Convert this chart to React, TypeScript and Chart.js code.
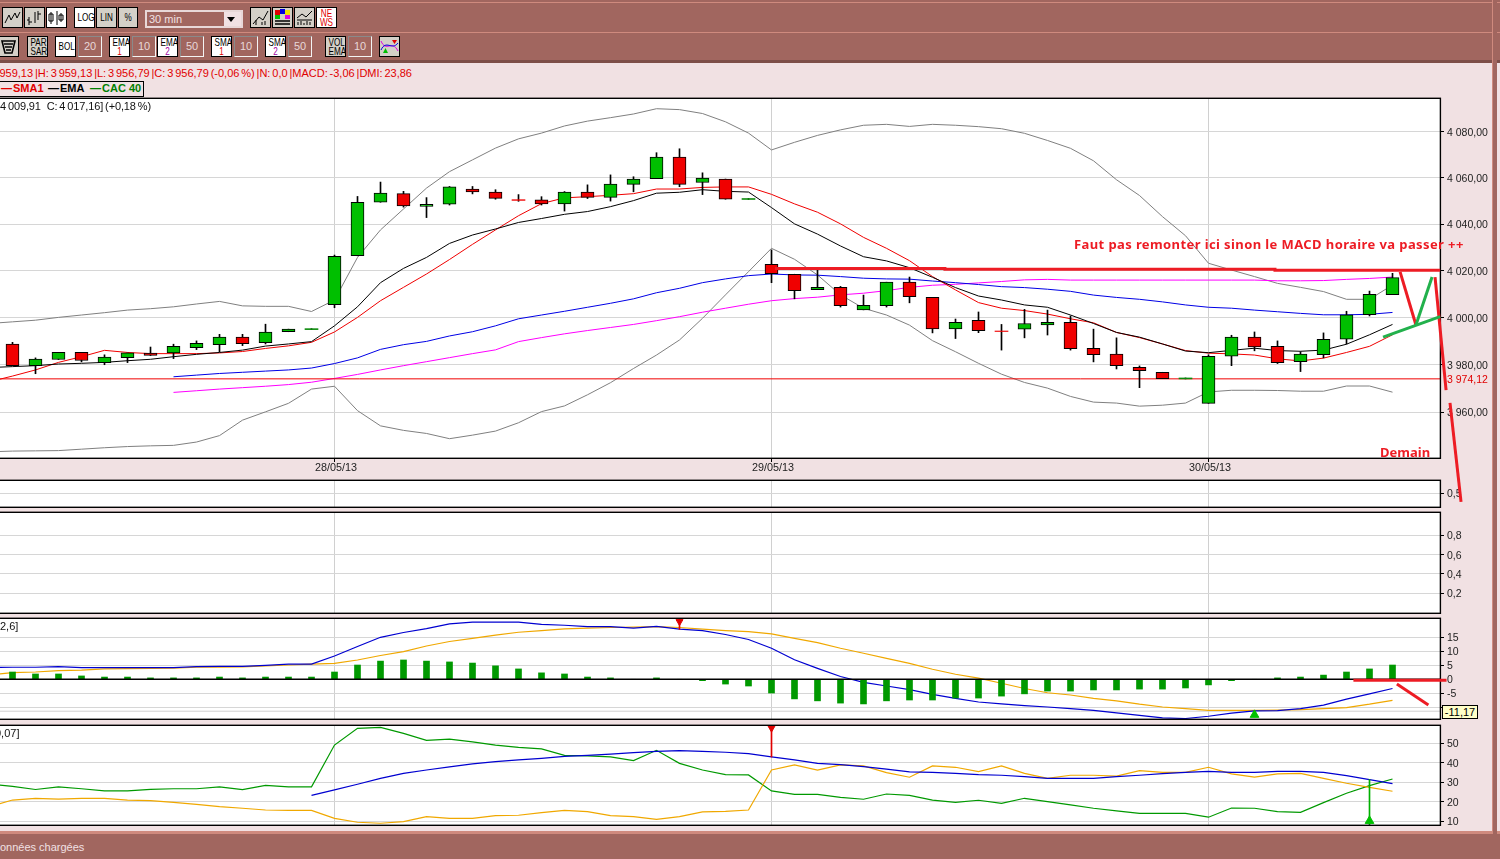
import React, { useEffect, useRef } from "react";
import { Chart, registerables } from "chart.js";

Chart.register(...registerables);

// ---------- data ----------
const dayIndexes = [14, 33, 52];
const dayLabels = ["28/05/13", "29/05/13", "30/05/13"];

const opens = [3988.8,3979.7,3982.3,3985.3,3981,3983.1,3985,3985.1,3987.3,3988.6,3991.8,3989.4,3994.1,3995,4005.6,4026.5,4049.5,4053.2,4047.7,4048.7,4055.2,4053.9,4050.6,4050.5,4048.8,4053.9,4051.6,4057.2,4059.7,4069,4058,4059.5,4050.7,4022.8,4018.6,4012,4013,4003.4,4005.2,4015.2,4008.7,3995.3,3998.9,3994.4,3995.2,3997,3998.1,3987.1,3984.6,3979,3976.9,3974.1,3963.8,3983.7,3991.8,3987.9,3981.4,3984.4,3990.9,4001.3,4009.91];
const closes = [3979.7,3982.5,3985.3,3981.9,3983.3,3985.1,3984,3987.9,3989.2,3991.8,3989,3993.9,3995.2,3995.4,4026.3,4049.5,4053.5,4047.9,4048.6,4056.1,4053.9,4051.2,4050.3,4048.8,4053.9,4051.6,4057.3,4059.5,4069,4057.2,4059.9,4050.8,4051.1,4018.8,4011.6,4013,4005.2,4005.3,4015.2,4009,3995.3,3998.1,3994.6,3994.2,3997.6,3998.1,3986.9,3984.4,3979.7,3977.6,3974.2,3974.5,3983.7,3991.8,3987.7,3981,3984.6,3990.9,4001.3,4010,4017.16];
const highs = [3989.6,3983,3985.3,3985.3,3984.3,3985.1,3987.6,3988.8,3990.2,3993,3993,3997.3,3995.2,3995.4,4026.8,4052,4058.2,4054.2,4051.5,4056.3,4056.3,4054.9,4052.8,4051.9,4054.1,4057,4061.3,4060.5,4070.9,4072.6,4062.2,4059.5,4051.1,4029,4018.6,4020.4,4013.4,4009.7,4015.2,4017.4,4008.7,3999.5,4002.5,3997.2,4003.6,4003.3,4000.8,3995.2,3991.5,3979.6,3976.9,3974.5,3984.3,3992.6,3994,3990.2,3985.6,3993.6,4002.8,4011.4,4019];
const lows = [3979.7,3976.3,3982.3,3981.3,3980.1,3981,3984,3982.7,3986.5,3985.6,3988.2,3988.9,3994.1,3995,4004.3,4026.5,4049.5,4047.4,4042.9,4048.3,4053.1,4050.8,4049.9,4048.3,4045.7,4051.1,4050,4054,4059.7,4056.2,4052.8,4050.8,4050.7,4015,4008.1,4012,4004.6,4003.4,4004.6,4006.4,3993.6,3991.2,3993.7,3986.3,3991.5,3992.7,3986.3,3981.3,3978.3,3970.4,3974.2,3974.1,3963.8,3979.7,3986,3980.6,3977.2,3983,3988.9,4000.8,4009.91];

// first value of these is candle -1 (just off the left edge)
const sma1 = [3972.9,3975.3,3977.9,3981.1,3983.5,3986.2,3985.3,3984.8,3984.8,3984.8,3985.1,3985.7,3987,3988.1,3989.6,3994,4000.2,4007.3,4013,4018.7,4024.9,4031.4,4037.6,4043.7,4048.9,4051.4,4051.9,4052.5,4053.2,4055.2,4055.2,4055.9,4056.1,4056.1,4052.9,4048.8,4045.2,4040.2,4034.4,4029.7,4024.4,4017.6,4011.9,4006.5,4004.1,4003.1,4001.6,3999.6,3997.9,3993.8,3991.6,3988.9,3986.1,3985,3984.7,3984.2,3982.6,3981.7,3982.9,3985.3,3987.9,3992.8];
const ema1 = [3978.9,3979.3,3979.7,3980.4,3980.7,3981.1,3981.8,3982.4,3983.5,3984.5,3985.3,3986.3,3988,3988.9,3989.9,3996.6,4004.7,4015,4021.1,4025.8,4031.8,4035.4,4038,4040.8,4042.5,4044.3,4045.5,4047.6,4050.2,4053.4,4053.8,4054.9,4054.2,4053.9,4047.2,4040.2,4035.8,4030.7,4026.1,4024.3,4021.4,4017.3,4012.9,4009.3,4007.6,4005.5,4004.5,4001.2,3997.6,3993.8,3991.8,3988.9,3985.9,3985.2,3986.2,3987.1,3986.1,3985.8,3986.3,3988.8,3992.8,3997.2];
const bollUp = [3997.6,3998.3,3999,4000.2,4001.2,4002.2,4003.3,4003.9,4004.7,4005.9,4007,4005.1,4004.9,4004.9,4002.7,4007.6,4025.8,4037.6,4046.6,4055.6,4062.7,4067.8,4072.9,4076.9,4079.4,4082.5,4084.6,4086.1,4087.7,4090,4089.6,4087.9,4084.3,4079.4,4072.1,4075.4,4078.4,4080.8,4082.8,4083.2,4082.3,4083.2,4082.8,4082.2,4081.3,4079.3,4076.2,4072.8,4067.4,4059.2,4052.4,4043.3,4035.1,4023.3,4020.4,4017.6,4014.7,4013,4011.2,4007.9,4007.9,4014];
const bollLow = [3943.4,3943.7,3943.8,3943.9,3944.5,3945.1,3945.6,3945.9,3946.1,3947.5,3950.2,3956.7,3960.2,3963.8,3969.8,3971,3960.7,3954.3,3952.4,3951.1,3948.9,3950.4,3952.1,3955.6,3960.3,3962.7,3967.4,3972.5,3978.5,3984.2,3990.6,3999.8,4009.8,4019.7,4029.7,4025,4018.3,4009.8,4004.1,4001.2,3996.9,3990.3,3985.6,3980.7,3976.1,3972.6,3970.2,3966.7,3964.3,3963.9,3962.6,3963,3963.9,3968.6,3969.3,3969.3,3969.2,3968.9,3968.9,3971.1,3971.1,3968.5];

// first value of these is candle 7
const sma2 = [3975,3975.7,3976.4,3976.9,3977.4,3977.9,3978.7,3980.6,3983,3986.6,3988.6,3990,3992.3,3994.1,3996.6,3999.6,4001.2,4002.8,4004.5,4006.2,4008.1,4010.7,4012.6,4015,4016.6,4018,4018.7,4018.3,4018.2,4017.6,4016.9,4016.6,4016.5,4015.7,4015,4014.2,4013.3,4012.9,4012.2,4011.3,4009.7,4008.7,4007.9,4006.8,4005.5,4004.5,4004.1,4003.3,4002.6,4001.9,4001.3,4001.3,4001.5,4002.3];
const ema2 = [3968.4,3969.1,3969.8,3970.4,3971,3971.7,3972.7,3974.3,3976,3977.9,3979.7,3981.4,3983.1,3984.8,3986.4,3989.9,3991.6,3993.2,3994.6,3995.9,3997.2,3998.8,4000.5,4002.4,4004.1,4005.8,4007.3,4008.2,4008.8,4009.8,4010.5,4011.6,4013,4013.9,4014.3,4014.9,4015.5,4016.2,4016.4,4016.1,4016.1,4016.1,4016.1,4016.1,4016.1,4016.1,4016.1,4016.1,4015.8,4015.8,4015.9,4016.4,4016.8,4017.4];

const lastLevel = 3974.12;

// first value: candle -1
const macdLine = [4.2,4.3,4.3,4.5,4.2,4.2,4.2,4.2,4.2,4.5,4.6,4.6,5,5.4,5.4,8.3,11.7,15,16.7,18.1,19.8,20.4,20.4,20.4,19.6,19.3,18.8,18.8,18.3,18.9,17.9,17.4,16,14.2,11.1,7,3.9,1,-1.1,-2.4,-3.7,-5.4,-6.8,-8.1,-8.8,-9.4,-9.9,-10.5,-11.1,-12,-12.9,-13.8,-14,-13.2,-12.1,-11.3,-11.2,-10.5,-9.2,-7.1,-5.2,-3.3];
const macdSignal = [1.5,2.4,2.6,3.1,3.3,3.7,3.8,3.9,4,4.3,4.3,4.4,4.8,5.1,5.4,5.7,6.9,8.5,9.9,11.9,13.5,14.6,15.8,16.8,17.4,18,18.3,18.5,18.6,18.8,18.5,17.9,17.4,17,16.2,14.6,13.1,11.1,9.3,7.5,5.7,3.6,1.8,0.4,-1.4,-3.3,-4.8,-5.6,-6.8,-7.7,-8.9,-9.9,-10.5,-11.1,-11.1,-11.1,-11,-10.8,-10.5,-10.1,-8.9,-7.5];
// first value: candle 0
const macdHist = [2.6,1.9,1.9,1.2,0.8,0.8,0.5,0.5,0.5,0.8,0.5,0.8,0.8,0.8,2.6,5.1,6.5,6.9,6.5,6.2,5.8,4.8,3.7,2.3,1.9,0.8,0.5,0,0.5,0,-0.5,-1.7,-2.4,-4.9,-7,-7.7,-8.5,-8.8,-7.7,-7.4,-7.4,-6.7,-6.7,-6,-5.2,-4.2,-4.2,-3.8,-3.8,-3.5,-3.5,-3.1,-2,-0.5,0,0.5,0.8,1.5,2.6,3.7,5.1];
const macdCursor = -11.4;

// first value: candle -1
const dmiGreen = [29,27.9,26.3,27.6,26.7,25.6,25.6,26.4,26.7,26.7,27.6,26.2,28.4,27.7,27.7,49.1,57.7,58.2,55.1,51.5,52.1,50.7,49.1,47.9,47.1,43.8,43.5,43,41.1,46.4,39.7,36.3,33.9,33.8,25.6,23.8,23.8,22.3,21.3,24,23.3,20.9,19.7,20.8,19.2,21.8,20.1,18.4,16.7,15.3,14.1,14.1,14.1,12.1,16.8,16.7,15,14.6,19.6,24.4,28.3,31.7];
const dmiOrange = [17.5,20.9,21.8,21.4,21.8,21.8,20.9,20.6,19.7,18.7,17.5,16.7,15.8,15.6,15.6,11.5,9.5,9,9.8,12.4,11.5,11.5,12.9,13.1,14.4,15.6,15,12.9,12.4,11,12.4,14.8,15.1,15.8,36.3,38.9,36.2,38.9,38.4,35,32.6,38.4,37.7,35.5,38.4,34.6,32,33.6,33.6,33.2,36,35.1,35.1,37.7,34.3,32.7,34.3,34.6,32,29.5,27.4,25.4];
// first value: candle 13
const dmiBlue = [23.3,26.1,29,32,34.6,36.3,37.9,39.4,40.6,41.5,42.3,43.3,43.8,44.4,45.2,45.9,46.2,45.9,45.4,44.7,43,41.5,39.7,39.1,38,36.8,35.3,35.1,34.6,33.9,33.6,32.9,32,32,32,32.9,33.6,34.4,35.1,35.6,35.1,35.1,35.6,35.6,35.1,33.4,31.4,29.3];

// hand-drawn strokes of the author: [candle position, value] pairs
const resistance = [[33.15,4020.9],[40.54,4020.9],[40.54,4020.5],[54.89,4020.5],[54.89,4020.1],[62.07,4020.1]];
const handGreenRise = [[59.59,3991.5],[62.07,4000.3]];
const handGreenLeg = [[61.02,3996.7],[61.72,4017.2]];
const handRedLeg = [[60.33,4019.4],[61.02,3996.7]];
const handRedDropA = [[61.85,4017.2],[62.33,3968.9]];
const handRedDropB = [[62.5,3963.4],[62.98,3921.1]];
const handMacdFlat = [[58.3,-0.36],[62.35,-0.36]];
const handMacdDrop = [[60.19,-1.68],[61.56,-9.18]];

const mainTicks = [3960, 3980, 4000, 4020, 4040, 4060, 4080];
const volTicks = [0.5];
const blankTicks = [0.2, 0.4, 0.6, 0.8];
const macdTicks = [-10, -5, 0, 5, 10, 15];
const dmiTicks = [10, 20, 30, 40, 50];

const headerText = "O: 3 959,13 |H: 3 959,13 |L: 3 956,79 |C: 3 956,79 (-0,06 %) |N: 0,0 |MACD: -3,06 |DMI: 23,86";
const candleText = "4 009,91   C: 4 017,16] (+0,18 %)";
const noteText = "Faut pas remonter ici sinon le MACD horaire va passer ++";
const tomorrowText = "Demain";

// ---------- helpers ----------
const STEP = 23;
const FONT = "'Liberation Sans', Arial, sans-serif";
const GRID = "#d6d6d6";
const pts = (values: number[], first: number) => values.map((y, k) => ({ x: first + k, y }));
const pairs = (p: number[][]) => p.map(([x, y]) => ({ x, y }));
const line = (values: number[], first: number, color: string, order: number, width = 1) => ({
  type: "line", data: pts(values, first), borderColor: color, borderWidth: width,
  pointRadius: 0, tension: 0, order, fill: false,
});
const thousand = (v: number) => {
  const s = v.toFixed(2).replace(".", ",");
  return s.replace(/^(\d)(\d{3})/, "$1 $2");
};

const framePlugin = {
  id: "frame",
  beforeDraw(chart: any) {
    const { ctx, chartArea: a } = chart;
    ctx.save();
    ctx.fillStyle = "#ffffff";
    ctx.fillRect(a.left, a.top, a.right - a.left, a.bottom - a.top);
    ctx.restore();
  },
  afterDraw(chart: any) {
    const { ctx, chartArea: a } = chart;
    ctx.save();
    ctx.strokeStyle = "#000000";
    ctx.lineWidth = 1.4;
    ctx.strokeRect(a.left - 3, a.top + 0.3, a.right - a.left + 3.4, a.bottom - a.top);
    ctx.restore();
  },
};

type PanelProps = {
  top: number; bottom: number; min: number; max: number; ticks: number[];
  fmt: (v: number) => string; datasets: any[]; showDays?: boolean; redTick?: number; log?: boolean;
};

function Panel({ top, bottom, min, max, ticks, fmt, datasets, showDays, redTick, log }: PanelProps) {
  const ref = useRef<HTMLCanvasElement>(null);
  const xH = showDays ? 22 : 0;
  const pad = 10;
  const height = bottom - top + pad + xH + (showDays ? 0 : pad);
  useEffect(() => {
    const chart = new Chart(ref.current as HTMLCanvasElement, {
      type: "line",
      data: { datasets },
      plugins: [framePlugin],
      options: {
        animation: false, responsive: false, devicePixelRatio: 1,
        layout: { autoPadding: false, padding: { top: pad, bottom: showDays ? 0 : pad, left: 0, right: 0 } },
        plugins: { legend: { display: false }, tooltip: { enabled: false } },
        scales: {
          x: {
            type: "linear", offset: false, bounds: "data",
            min: -12.5 / STEP, max: (1440 - 12.5) / STEP,
            afterBuildTicks: (s: any) => { s.ticks = dayIndexes.map((value) => ({ value })); },
            afterFit: (s: any) => { s.height = xH; },
            grid: { offset: false, color: "#d0d0d0", lineWidth: 1, drawTicks: !!showDays, tickLength: 4, tickColor: "#000" },
            border: { display: false },
            ticks: {
              display: !!showDays, autoSkip: false, maxRotation: 0, padding: 0, labelOffset: 1.5,
              color: "#222", font: { family: FONT, size: 10.8 },
              callback: (v: any) => dayLabels[dayIndexes.indexOf(Number(v))] ?? "",
            },
          },
          y: {
            type: log ? "logarithmic" : "linear", position: "right", bounds: "data", min, max,
            afterBuildTicks: (s: any) => { s.ticks = ticks.map((value) => ({ value })); },
            afterFit: (s: any) => { s.width = 60; },
            grid: {
              color: (c: any) => (c.tick && c.tick.value === redTick ? "rgba(0,0,0,0)" : GRID),
              lineWidth: 1, tickLength: 4,
              tickColor: (c: any) => (c.tick && c.tick.value === redTick ? "rgba(0,0,0,0)" : "#000"),
            },
            border: { display: false },
            ticks: {
              autoSkip: false, padding: 3, labelOffset: 1, font: { family: FONT, size: 10.5 },
              color: (c: any) => (c.tick && c.tick.value === redTick ? "#e00000" : "#222"),
              callback: (v: any) => fmt(Number(v)),
            },
          },
        },
      } as any,
    } as any);
    return () => chart.destroy();
  }, []);
  return (
    <canvas ref={ref} width={1500} height={height}
      style={{ position: "absolute", left: 0, top: top - pad, width: 1500, height }} />
  );
}

function HandOverlay() {
  const ref = useRef<HTMLCanvasElement>(null);
  useEffect(() => {
    const stroke = (p: number[][], color: string, width: number, yAxisID = "y") => ({
      data: pairs(p), borderColor: color, borderWidth: width, pointRadius: 0, tension: 0, yAxisID,
    });
    const RED = "#ed1c24", GREEN = "#22b14c";
    const chart = new Chart(ref.current as HTMLCanvasElement, {
      type: "line",
      data: {
        datasets: [
          stroke(resistance, RED, 3),
          stroke(handGreenRise, GREEN, 3),
          stroke(handGreenLeg, GREEN, 3),
          stroke(handRedLeg, RED, 3),
          stroke(handRedDropA, RED, 3),
          stroke(handRedDropB, RED, 3),
          stroke(handMacdFlat, RED, 3, "yMacd"),
          stroke(handMacdDrop, RED, 3, "yMacd"),
        ],
      },
      options: {
        animation: false, responsive: false, devicePixelRatio: 1,
        layout: { autoPadding: false, padding: 0 },
        plugins: { legend: { display: false }, tooltip: { enabled: false } },
        scales: {
          x: { type: "linear", display: false, min: -12.5 / STEP, max: (1500 - 12.5) / STEP },
          y: { type: "linear", display: false, min: 3768.5, max: 4135.6 },
          yMacd: { type: "linear", display: false, min: -64.18, max: 242.6 },
        },
      } as any,
    } as any);
    return () => chart.destroy();
  }, []);
  return (
    <canvas ref={ref} width={1500} height={859}
      style={{ position: "absolute", left: 0, top: 0, width: 1500, height: 859, pointerEvents: "none" }} />
  );
}

// ---------- window furniture ----------
const Squeezed = ({ text, color = "#000" }: any) => (
  <span style={{ display: "block", height: 9, lineHeight: "9px", color, transform: "scaleX(0.74)", whiteSpace: "nowrap" }}>{text}</span>
);

const Btn = ({ x, y, w = 21, active, lines, sub, subColor, children }: any) => (
  <div style={{
    position: "absolute", left: x, top: y, width: w, height: 21, boxSizing: "border-box",
    background: active ? "#ffffff" : "#d4d0c8", border: "1px solid #000",
    fontFamily: FONT, fontSize: 11, textAlign: "center", color: "#000",
    display: "flex", flexDirection: "column", justifyContent: "center", overflow: "hidden",
  }}>
    {lines && lines.map((t: string) => <Squeezed key={t} text={t} />)}
    {sub && <Squeezed text={sub} color={subColor} />}
    {children}
  </div>
);

const Field = ({ x, w = 24, text }: any) => (
  <div style={{
    position: "absolute", left: x, top: 36, width: w, height: 21, boxSizing: "border-box",
    borderStyle: "solid", borderWidth: 1, borderColor: "#8a8a8a #f4f4f4 #f4f4f4 #8a8a8a",
    color: "#e8d8d8", fontFamily: FONT, fontSize: 11, lineHeight: "19px", paddingLeft: 5,
  }}>{text}</div>
);

const Ico = ({ d, color = "#000", w = 1 }: any) => (
  <svg width="19" height="19" viewBox="0 0 19 19" style={{ display: "block" }}>
    <path d={d} stroke={color} strokeWidth={w} fill="none" />
  </svg>
);

const abs = (left: number, top: number, extra: any = {}) => ({
  position: "absolute" as const, left, top, fontFamily: FONT, fontSize: 11, whiteSpace: "pre" as const, ...extra,
});

export default function App() {
  const wickData = opens.map((_, i) => ({ x: i, y: [lows[i], highs[i]] }));
  const bodyData = opens.map((o, i) => ({ x: i, y: [o, closes[i]] }));
  const isDoji = (i: number) => Math.abs(opens[i] - closes[i]) < 0.6;
  const fillOf = (i: number) => {
    const up = closes[i] >= opens[i];
    if (isDoji(i)) return up ? "#0a8a0a" : "#f00000";
    return up ? "#00bf00" : "#f00000";
  };

  const mainSets: any[] = [
    { type: "bar", data: bodyData, grouped: false, barThickness: 13, borderSkipped: false, order: 0,
      backgroundColor: (c: any) => fillOf(c.dataIndex),
      borderColor: (c: any) => (isDoji(c.dataIndex) ? fillOf(c.dataIndex) : "#000"),
      borderWidth: (c: any) => (isDoji(c.dataIndex) ? 0 : 1) },
    { type: "bar", data: wickData, grouped: false, barThickness: 1, order: 1, backgroundColor: "#000" },
    line(ema1, -1, "#000000", 2),
    line(sma1, -1, "#f00000", 3),
    { type: "line", data: [{ x: -1, y: lastLevel }, { x: 63, y: lastLevel }], borderColor: "#f00000", borderWidth: 1, pointRadius: 0, order: 4 },
    line(sma2, 7, "#0000e6", 5),
    line(ema2, 7, "#ff00ff", 6),
    line(bollUp, -1, "#808080", 7),
    line(bollLow, -1, "#808080", 8),
  ];

  const macdSets: any[] = [
    { type: "scatter", data: [{ x: 29, y: 20.6 }], pointStyle: "triangle", rotation: 180, pointRadius: 4,
      backgroundColor: "#e00000", borderColor: "#e00000", order: 0 },
    { type: "scatter", data: [{ x: 54, y: -12.7 }], pointStyle: "triangle", pointRadius: 5,
      backgroundColor: "#00c000", borderColor: "#00c000", order: 0 },
    { type: "bar", data: [{ x: 29, y: [17.8, 21.8] }], grouped: false, barThickness: 1, backgroundColor: "#e00000", order: 1 },
    { type: "line", data: [{ x: -1, y: 0 }, { x: 63, y: 0 }], borderColor: "#000", borderWidth: 1.6, pointRadius: 0, order: 2 },
    { type: "bar", data: pts(macdHist, 0), grouped: false, barThickness: 6, backgroundColor: "#009900", order: 3 },
    line(macdLine, -1, "#0000d0", 4, 1.2),
    line(macdSignal, -1, "#f0a800", 5, 1.2),
    { type: "line", data: [{ x: -1, y: macdCursor }, { x: 63, y: macdCursor }], borderColor: "#d0d0d0", borderWidth: 1, pointRadius: 0, order: 9 },
  ];

  const dmiSets: any[] = [
    { type: "scatter", data: [{ x: 33, y: 57.8 }], pointStyle: "triangle", rotation: 180, pointRadius: 4,
      backgroundColor: "#e00000", borderColor: "#e00000", order: 0 },
    { type: "scatter", data: [{ x: 59, y: 10.2 }], pointStyle: "triangle", pointRadius: 5,
      backgroundColor: "#00c000", borderColor: "#00c000", order: 0 },
    { type: "bar", data: [{ x: 33, y: [43, 59.4] }], grouped: false, barThickness: 1, backgroundColor: "#e00000", order: 1 },
    { type: "bar", data: [{ x: 59, y: [8.1, 31.4] }], grouped: false, barThickness: 1, backgroundColor: "#00b000", order: 1 },
    line(dmiBlue, 13, "#0000d0", 2, 1.2),
    line(dmiOrange, -1, "#f0a800", 3, 1.2),
    line(dmiGreen, -1, "#009900", 4, 1.2),
  ];

  return (
    <div style={{ position: "fixed", left: 0, top: 0, width: 1500, height: 859, overflow: "hidden", background: "#f1e1e3" }}>
      {/* toolbars */}
      <div style={{ position: "absolute", left: 0, top: 0, width: 1500, height: 63, background: "#a1665f" }} />
      <div style={{ position: "absolute", left: 0, top: 2, width: 1500, height: 1, background: "#cf8a7e" }} />
      <div style={{ position: "absolute", left: 0, top: 32, width: 1500, height: 1, background: "#cf8a7e" }} />
      <div style={{ position: "absolute", left: 0, top: 60, width: 1500, height: 3, background: "#7d4e48" }} />

      <Btn x={2} y={7}><Ico d="M2 15 L6 7 L8 12 L12 5 L14 10 L17 4" /></Btn>
      <Btn x={24} y={7}><Ico d="M4 9 V17 M4 12 H2 M4 14 H7 M10 4 V15 M13 3 V12 M13 6 H16" /></Btn>
      <Btn x={46} y={7} active><Ico d="M4 4 V16 M2 6 H6 V13 H2 Z M10 3 V17 M14 5 V14 M12 7 H16 V12 H12 Z" /></Btn>
      <Btn x={74} y={7} active lines={["LOG"]} />
      <Btn x={96} y={7} lines={["LIN"]} />
      <Btn x={118} y={7} w={20} lines={["%"]} />
      <div style={{ position: "absolute", left: 145, top: 10, width: 98, height: 18, boxSizing: "border-box", borderStyle: "solid", borderWidth: 2, borderColor: "#e8d8d8", background: "#a1665f" }}>
        <div style={{ position: "absolute", right: 0, top: 0, width: 17, height: 14, background: "#f1e1e3" }}>
          <div style={{ position: "absolute", left: 3, top: 5, width: 0, height: 0, borderLeft: "4px solid transparent", borderRight: "4px solid transparent", borderTop: "5px solid #000" }} />
        </div>
        <span style={{ ...abs(2, 0), color: "#f1e1e3", lineHeight: "14px" }}>30 min</span>
      </div>
      <Btn x={250} y={7}><Ico d="M2 16 L8 9 L12 12 L17 3 M5 17 V12 M11 17 V14 M14 17 V13" /></Btn>
      <Btn x={272} y={7}>
        <svg width="19" height="19" viewBox="0 0 19 19" style={{ display: "block" }}>
          <rect x="2" y="2" width="5" height="5" fill="#e00000" /><rect x="7" y="1" width="5" height="5" fill="#0000e0" /><rect x="12" y="2" width="5" height="5" fill="#f0e000" /><rect x="2" y="7" width="5" height="4" fill="#00c000" /><rect x="12" y="7" width="5" height="4" fill="#e000e0" />
          <path d="M2 13 H17 M2 16 H17" stroke="#000" strokeWidth="1.5" />
        </svg>
      </Btn>
      <Btn x={294} y={7}><Ico d="M2 10 L7 6 L11 9 L17 3 M3 17 V14 M6 17 V13 M9 17 V15 M12 17 V13 M15 17 V14 M2 12 H17" /></Btn>
      <Btn x={316} y={7} active>
        <Squeezed text="NE" color="#e00000" />
        <Squeezed text="WS" color="#e00000" />
      </Btn>

      <Btn x={-2} y={36}><Ico d="M3 4 H16 L13 16 H6 Z M5 7 H14 M6 10 H13 M7 13 H12" w={1.6} /></Btn>
      <Btn x={27} y={36} lines={["PAR", "SAR"]} />
      <Btn x={55} y={36} active lines={["BOL"]} />
      <Field x={78} text="20" />
      <Btn x={109} y={36} active lines={["EMA"]} sub="1" subColor="#e00000" />
      <Field x={132} text="10" />
      <Btn x={157} y={36} active lines={["EMA"]} sub="2" subColor="#a000a0" />
      <Field x={180} text="50" />
      <Btn x={211} y={36} active lines={["SMA"]} sub="1" subColor="#e00000" />
      <Field x={234} text="10" />
      <Btn x={265} y={36} active lines={["SMA"]} sub="2" subColor="#a000a0" />
      <Field x={288} text="50" />
      <Btn x={325} y={36} lines={["VOL", "EMA"]} />
      <Field x={348} text="10" />
      <Btn x={379} y={36}>
        <svg width="19" height="19" viewBox="0 0 19 19" style={{ display: "block" }}>
          <path d="M1 4 C6 16 12 2 18 14" stroke="#e000e0" fill="none" /><path d="M1 13 C6 2 12 14 18 6" stroke="#0000e0" fill="none" />
          <path d="M12 3 H17 L14.5 7 Z" fill="#e00000" /><path d="M3 16 H8 L5.5 11 Z" fill="#00c000" />
        </svg>
      </Btn>

      {/* header */}
      <div style={abs(-22, 67, { color: "#e00000", wordSpacing: -1.2 })}>{headerText}</div>
      <div style={{ position: "absolute", left: -2, top: 81, width: 146, height: 16, boxSizing: "border-box", border: "1px solid #000" }} />
      <div style={abs(1, 82, { color: "#e00000", fontWeight: 700 })}>{"—"}<span style={{ marginLeft: 1 }}>SMA1</span></div>
      <div style={abs(48, 82, { color: "#000", fontWeight: 700 })}>{"—"}<span style={{ marginLeft: 1 }}>EMA</span></div>
      <div style={abs(90, 82, { color: "#008000", fontWeight: 700 })}>{"—"}<span style={{ marginLeft: 1 }}>CAC 40</span></div>

      {/* panels */}
      <Panel top={98} bottom={458} min={3940.8} max={4094.66} log ticks={[...mainTicks, lastLevel]} redTick={lastLevel}
        fmt={thousand} datasets={mainSets} showDays />
      <Panel top={480} bottom={507} min={0} max={1} ticks={volTicks} fmt={(v) => v.toFixed(1).replace(".", ",")} datasets={[]} />
      <Panel top={512} bottom={613} min={-0.0038} max={1.041} ticks={blankTicks} fmt={(v) => v.toFixed(1).replace(".", ",")} datasets={[]} />
      <Panel top={618} bottom={719} min={-14.18} max={21.89} ticks={macdTicks} fmt={(v) => (v === -10 ? "" : String(v))} datasets={macdSets} />
      <Panel top={725} bottom={825} min={8.1} max={59.38} ticks={dmiTicks} fmt={(v) => String(v)} datasets={dmiSets} />

      <div style={abs(0, 100, { color: "#111", wordSpacing: -1, letterSpacing: -0.12 })}>{candleText}</div>
      <div style={abs(0, 620, { color: "#111" })}>{"2,6]"}</div>
      <div style={abs(-5, 727, { color: "#111" })}>{"0,07]"}</div>

      {/* value tag */}
      <div style={{ ...abs(1442, 705), width: 36, height: 14, boxSizing: "border-box", border: "1px solid #000", background: "#ffffc8", color: "#000", textAlign: "center", lineHeight: "12px" }}>-11,17</div>

      {/* status bar and window frame */}
      <div style={{ position: "absolute", left: 0, top: 831, width: 1500, height: 3, background: "#cf8a7e" }} />
      <div style={{ position: "absolute", left: 0, top: 834, width: 1500, height: 25, background: "#a1665f" }} />
      <div style={{ position: "absolute", left: 1492, top: 0, width: 5, height: 834, background: "#a1665f", borderLeft: "1px solid #cf8a7e", boxSizing: "border-box" }} />
      <div style={abs(-8, 841, { color: "#f1e1e3" })}>Données chargées</div>

      <HandOverlay />
      <div style={abs(1074, 235, { color: "#ed1c24", fontFamily: "'Noto Sans', sans-serif", fontWeight: 700, fontSize: 13, letterSpacing: 0.4 })}>{noteText}</div>
      <div style={abs(1380, 443, { color: "#ed1c24", fontFamily: "'Noto Sans', sans-serif", fontWeight: 700, fontSize: 13 })}>{tomorrowText}</div>
    </div>
  );
}
